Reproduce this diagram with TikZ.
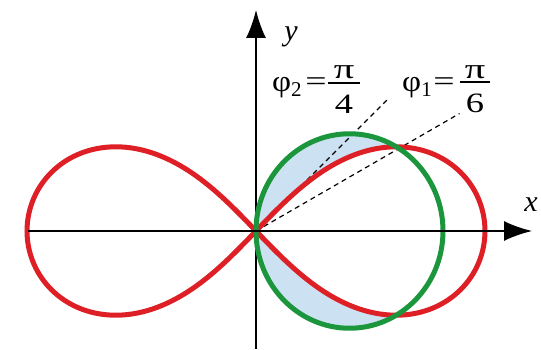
\documentclass[tikz,border=0pt]{standalone}
\usepackage{fontspec}
\setmainfont{Liberation Serif}
\usetikzlibrary{arrows.meta}
\definecolor{lemred}{RGB}{222,32,38}
\definecolor{circgreen}{RGB}{28,150,60}
\definecolor{shadeblue}{RGB}{204,226,242}
\newcommand\widetxt[2]{\scalebox{#1}[1]{#2}}
\begin{document}
\begin{tikzpicture}[x=1pt,y=1pt,
  axis/.style={line width=1.8pt,-{Latex[length=28pt,width=20pt]}},
  curve/.style={line width=5pt},
  guide/.style={line width=1.2pt,dash pattern=on 5pt off 4pt},
  lab/.style={font=\fontsize{28}{32}\selectfont, inner sep=0pt},
  phil/.style={font=\fontsize{30}{34}\selectfont, inner sep=0pt},
  axlab/.style={font=\fontsize{30}{34}\selectfont\itshape, inner sep=0pt},
  fracbar/.style={draw=black,line width=2pt}]
\useasboundingbox (0,0) rectangle (541,349);
\coordinate (O) at (256,118);
\begin{scope}[shift={(256,118)},yscale=1.04]
  % shaded region: inside circle, outside lemniscate
  \fill[shadeblue] (93.5,0) circle (93.5);
  \fill[white] plot[smooth,domain=-90:90,samples=121,variable=\t]
    ({229*cos(\t)/(1+sin(\t)^2)},{229*sin(\t)*cos(\t)/(1+sin(\t)^2)}) -- cycle;
\end{scope}
% guide rays
\coordinate (e2) at ([shift={(45:185)}]O);
\coordinate (e1) at ([shift={(30:235)}]O);
\draw[guide] (O) -- (e2);
\draw[guide] (O) -- (e1);
% y axis
\coordinate (ys) at (256,0);
\coordinate (ye) at (256,339);
\draw[axis] (ys) -- (ye);
% curves
\begin{scope}[shift={(256,118)},yscale=1.04]
  \draw[curve,lemred] plot[smooth cycle,domain=0:358,samples=180,variable=\t]
    ({229*cos(\t)/(1+sin(\t)^2)},{229*sin(\t)*cos(\t)/(1+sin(\t)^2)});
  \draw[curve,circgreen] (93.5,0) circle (93.5);
\end{scope}
% x axis
\coordinate (xs) at (28,118);
\coordinate (xe) at (532,118);
\draw[axis] (xs) -- (xe);
% axis labels
\node[axlab] (ylab) at (291,312) {y};
\node[axlab] (xlab) at (531,144) {x};
% label phi_2 = pi/4
\node[phil,anchor=base west] (p2) at (272,258) {\widetxt{1.1}{φ}\textsubscript{2}};
\node[lab,anchor=base] (eq2) at (316,259) {\widetxt{1.35}{=}};
\node[lab,anchor=base] (n2) at (344,271) {\widetxt{1.45}{π}};
\node[lab,anchor=base] (d2) at (344,236) {\widetxt{1.3}{4}};
\coordinate (b2l) at (328,266);
\coordinate (b2r) at (360,266);
\draw[fracbar] (b2l) -- (b2r);
% label phi_1 = pi/6
\node[phil,anchor=base west] (p1) at (402,258) {\widetxt{1.1}{φ}\textsubscript{1}};
\node[lab,anchor=base] (eq1) at (444,259) {\widetxt{1.35}{=}};
\node[lab,anchor=base] (n1) at (475,271) {\widetxt{1.45}{π}};
\node[lab,anchor=base] (d1) at (475,237) {\widetxt{1.3}{6}};
\coordinate (b1l) at (460,267);
\coordinate (b1r) at (490,267);
\draw[fracbar] (b1l) -- (b1r);
\end{tikzpicture}
\end{document}
